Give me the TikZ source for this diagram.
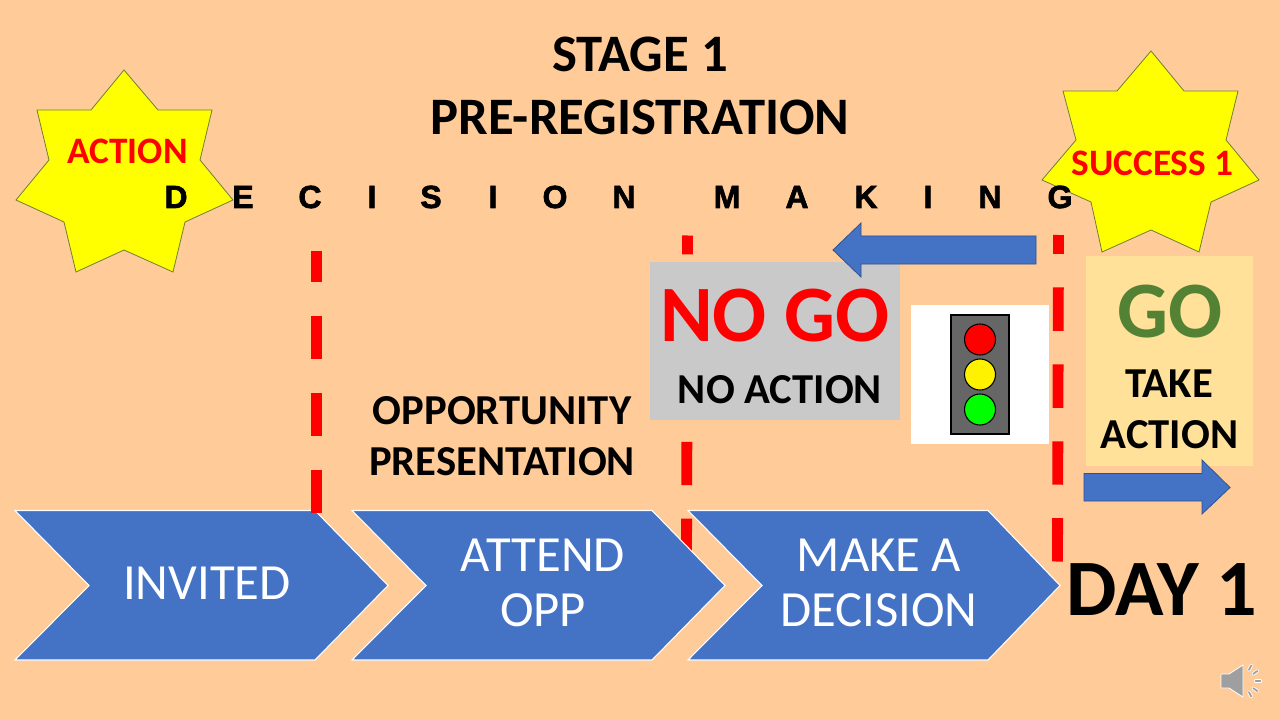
\documentclass[tikz,border=0pt]{standalone}
\usepackage{fontspec}
\setmainfont{Carlito}
\newfontfamily\letterfont[BoldFeatures={FakeBold=2}]{Liberation Sans}
\definecolor{pagefill}{HTML}{FFCB99}
\definecolor{bluefill}{HTML}{4472C4}
\definecolor{blueedge}{HTML}{2F528F}
\definecolor{starfill}{HTML}{FFFF00}
\definecolor{staredge}{HTML}{6F7F3A}
\definecolor{nogofill}{HTML}{C9C9C9}
\definecolor{gofill}{HTML}{FFE199}
\definecolor{gotext}{HTML}{548235}
\definecolor{lampbody}{HTML}{666666}
\newcommand{\sized}[1]{\fontsize{#1}{#1}\selectfont}
\tikzset{
	chevronshape/.style={fill=bluefill,draw=white,line width=0.8pt},
	blockarrow/.style={fill=bluefill,draw=blueedge,line width=0.6pt},
	starshape/.style={fill=starfill,draw=staredge,line width=0.6pt},
	gateline/.style={draw=red,line width=8.1pt,dash pattern=on 32.6pt off 25.1pt},
	lamp/.style={draw=black,line width=0.8pt},
	basetext/.style={anchor=base,inner sep=0pt},
	titletext/.style={basetext,font=\bfseries\sized{39.5}},
	steptext/.style={basetext,text=white,font=\sized{38}},
	midtext/.style={basetext,font=\bfseries\sized{32}},
	bigtext/.style={basetext,font=\bfseries\sized{60}},
	startext/.style={basetext,text=red,font=\bfseries\sized{28}},
	lettertext/.style={basetext,font=\letterfont\bfseries\sized{24}},
	tickedge/.style={draw=white,line width=2.6pt,line cap=round},
	tickcore/.style={draw=gray!75,line width=1.3pt,line cap=round},
}
\begin{document}
\begin{tikzpicture}[x=0.75pt,y=-0.75pt]
	\useasboundingbox (0,0) rectangle (1280,720);
	\fill[pagefill] (0,0) rectangle (1280,720);
	% stars
	\draw[starshape] (124,70) -- (158,110) -- (212,110) -- (200,160) -- (233,200) -- (185,222) -- (173,272) -- (124,250) -- (76,272) -- (64,222) -- (16,200) -- (49,160) -- (37,110) -- (91,110) -- cycle;
	\draw[starshape] (1151,51) -- (1184,91) -- (1238,91) -- (1226,140) -- (1259,180) -- (1211,202) -- (1199,252) -- (1151,230) -- (1102,252) -- (1091,202) -- (1042,180) -- (1076,140) -- (1063,91) -- (1117,91) -- cycle;
	% dashed lines behind the steps
	\draw[gateline,dash phase=18.4pt] (687.5,235.5) -- (686.5,560);
	\draw[gateline,dash phase=18.4pt] (1058.5,235) -- (1057.5,561.5);
	% steps
	\draw[chevronshape] (15,510.5) -- (315,510.5) -- (388,585.5) -- (315,660) -- (15,660) -- (89,585.5) -- cycle;
	\draw[chevronshape] (352,510.5) -- (652,510.5) -- (725,585.5) -- (652,660) -- (352,660) -- (426,585.5) -- cycle;
	\draw[chevronshape] (688,510.5) -- (988,510.5) -- (1060,585.5) -- (988,660) -- (688,660) -- (762,585.5) -- cycle;
	\draw[gateline,dash phase=9pt] (316.5,251) -- (316.5,513);
	% boxes
	\fill[nogofill] (650,262) rectangle (900,420);
	\fill[white] (911,305) rectangle (1049,444);
	\fill[gofill] (1086,256) rectangle (1253,466);
	% traffic light
	\draw[fill=lampbody,draw=black,line width=0.9pt] (951,315) rectangle (1009,434);
	\draw[lamp,fill=red] (980,339.5) circle (15.5);
	\draw[lamp,fill=yellow] (980,374.5) circle (15.5);
	\draw[lamp,fill=green] (980,409.5) circle (15.5);
	% arrows
	\draw[blockarrow] (1036,236) -- (861,236) -- (861,223) -- (833,250) -- (861,277) -- (861,264) -- (1036,264) -- cycle;
	\draw[blockarrow] (1084,473.5) -- (1202,473.5) -- (1202,460) -- (1230,487.5) -- (1202,514) -- (1202,501) -- (1084,501) -- cycle;
	% texts
	\node[titletext] (stage) at (640,72) {STAGE 1};
	\node[titletext] (prereg) at (640,135) {PRE-REGISTRATION};
	\node[startext] (action) at (127.5,164) {ACTION};
	\node[startext] (success) at (1152.5,176) {SUCCESS 1};
	\foreach \ch/\xpos in {D/176,E/243,C/310,I/372,S/431,I/493,O/555,N/624,M/727,A/797,K/866,I/928,N/990,G/1060}
		\node[lettertext] at (\xpos,208) {\ch};
	\node[bigtext,text=red] (nogo) at (775,341.5) {NO GO};
	\node[midtext] (noaction) at (780,403.5) {NO ACTION};
	\node[midtext] (opp) at (502,424) {OPPORTUNITY};
	\node[midtext] (pres) at (502,475) {PRESENTATION};
	\node[bigtext,text=gotext] (go) at (1170,337) {GO};
	\node[midtext] (take) at (1169,397.5) {TAKE};
	\node[midtext] (takeaction) at (1169.5,448.5) {ACTION};
	\node[bigtext] (dayone) at (1162,615) {DAY 1};
	\node[steptext] (invited) at (207,599.5) {INVITED};
	\node[steptext] (attend) at (543,571.5) {ATTEND};
	\node[steptext] (attendb) at (543,626.5) {OPP};
	\node[steptext] (make) at (879,571.5) {MAKE A};
	\node[steptext] (makeb) at (879,626.5) {DECISION};
	% speaker
	\fill[gray!75,draw=white,line width=0.6pt] (1221,674) -- (1229,674) -- (1243,665) -- (1243,697) -- (1229,688) -- (1221,688) -- cycle;
	\foreach \ang in {-62,-35,0,35,62} {
		\draw[tickedge] (1243,681) ++(\ang:12.5) -- ++(\ang:5);
		\draw[tickcore] (1243,681) ++(\ang:12.5) -- ++(\ang:5);
	}
\end{tikzpicture}
\end{document}
